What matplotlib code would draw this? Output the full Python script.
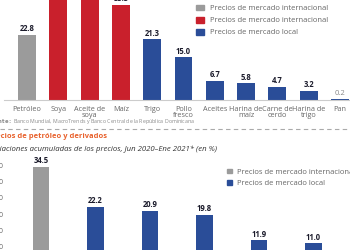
import matplotlib
matplotlib.use("Agg")
import matplotlib.pyplot as plt
from matplotlib.patches import Patch

plt.rcParams['font.family'] = ['Open Sans', 'DejaVu Sans']

# top chart: alimentos
food_labels = ['Petróleo', 'Soya', 'Aceite de\nsoya', 'Maíz', 'Trigo', 'Pollo\nfresco',
               'Aceites', 'Harina de\nmaíz', 'Carne de\ncerdo', 'Harina de\ntrigo', 'Pan']
food_values = [22.8, 58.0, 52.0, 33.3, 21.3, 15.0, 6.7, 5.8, 4.7, 3.2, 0.2]
food_groups = ['petroleo', 'intl', 'intl', 'intl', 'local', 'local', 'local', 'local', 'local', 'local', 'local']

# bottom chart: petróleo y derivados
fuel_labels = ['Petróleo WTI', 'Gasolina premium', 'Gasolina regular', 'Gasoil óptimo', 'Gasoil regular', 'Avtur']
fuel_values = [34.5, 22.2, 20.9, 19.8, 11.9, 11.0]
fuel_groups = ['petroleo', 'local', 'local', 'local', 'local', 'local']

colors = {'petroleo': '#9b9b9b', 'intl': '#c9202c', 'local': '#2a4d98'}
W, H = 350, 250

fig = plt.figure(figsize=(3.5, 2.5), dpi=100)

def px_axes(left, bottom_px, right, top_px):
    # pixel box (y from top) -> figure fraction
    return fig.add_axes([left / W, 1 - bottom_px / H, (right - left) / W, (bottom_px - top_px) / H])

# ---- top chart
L1 = 4
ax1 = px_axes(L1, 100, 350, 0)
x = range(len(food_values))
ax1.bar(x, food_values, width=0.57, color=[colors[g] for g in food_groups])
off1 = (27 - L1) / 31.3
ax1.set_xlim(-off1, (350 - L1) / 31.3 - off1)
ax1.set_ylim(0, 100 / 2.85)
ax1.set_yticks([5, 10, 15, 20, 25, 30])
ax1.set_yticklabels(['%.1f' % t for t in [5, 10, 15, 20, 25, 30]])
ax1.set_xticks(list(x))
ax1.set_xticklabels(food_labels, linespacing=0.8)
ax1.tick_params(axis='y', length=0, pad=2.5, labelsize=5, labelcolor='#666666')
ax1.tick_params(axis='x', length=0, pad=4.2, labelsize=5.2, labelcolor='#666666')
for s in ['top', 'right', 'left']:
    ax1.spines[s].set_visible(False)
ax1.spines['bottom'].set_color('#cccccc')
ax1.spines['bottom'].set_linewidth(0.8)
ax1.spines['bottom'].set_bounds(-0.75, 11)
for i, v in enumerate(food_values):
    if v < 1:
        ax1.annotate('%.1f' % v, (i, v), xytext=(0, 2), textcoords='offset points',
                     ha='center', va='bottom', fontsize=5.5, color='#888888')
    else:
        ax1.annotate('%.1f' % v, (i, v), xytext=(0, 1.2), textcoords='offset points',
                     ha='center', va='bottom', fontsize=5.5, fontweight='bold', color='#1c1c2c')
ax1.legend(handles=[Patch(color=colors['petroleo'], label='Precios de mercado internacional'),
                    Patch(color=colors['intl'], label='Precios de mercado internacional'),
                    Patch(color=colors['local'], label='Precios de mercado local')],
           loc='upper left', bbox_to_anchor=(196 / W, 1 - 4.5 / H), bbox_transform=fig.transFigure,
           frameon=False, fontsize=5.5, labelcolor='#666666', handlelength=1.1, handleheight=0.8,
           handletextpad=0.7, labelspacing=0.6, borderpad=0, borderaxespad=0)

# ---- texts between charts
fig.text(195 / W, 1 - 122 / H,
         r'$\bf{Fuente:}$ Banco Mundial, MacroTrends y Banco Central de la República Dominicana',
         ha='right', va='center', fontsize=3.8, color='#8a8a8a')
fig.add_artist(plt.Line2D([0, 1], [1 - 128.5 / H] * 2, color='#aaaaaa', lw=0.8,
                          linestyle=(0, (4, 3)), transform=fig.transFigure))
fig.text(107 / W, 1 - 137 / H, 'Precios de petróleo y derivados', ha='right', va='center',
         fontsize=5.4, fontweight='bold', color='#e8612c')
fig.text(217 / W, 1 - 149.5 / H,
         'Variaciones acumuladas de los precios, Jun 2020–Ene 2021* (en %)',
         ha='right', va='center', fontsize=5.6, style='italic', color='#333333')

# ---- bottom chart
L2 = 7
ax2 = px_axes(L2, 279, 350, 279 - 37 * 3.25)
x2 = range(len(fuel_values))
ax2.bar(x2, fuel_values, width=0.31, color=[colors[g] for g in fuel_groups])
off2 = (41 - L2) / 54.5
ax2.set_xlim(-off2, (350 - L2) / 54.5 - off2)
ax2.set_ylim(0, 37)
ticks2 = [0, 5, 10, 15, 20, 25, 30, 35]
ax2.set_yticks(ticks2)
ax2.set_yticklabels(['%.1f' % t for t in ticks2])
ax2.set_xticks(list(x2))
ax2.set_xticklabels(fuel_labels)
ax2.tick_params(axis='both', length=0, pad=2.5, labelsize=5, labelcolor='#666666')
for s in ['top', 'right', 'left']:
    ax2.spines[s].set_visible(False)
ax2.spines['bottom'].set_color('#cccccc')
for i, v in enumerate(fuel_values):
    ax2.annotate('%.1f' % v, (i, v), xytext=(0, 1.2), textcoords='offset points',
                 ha='center', va='bottom', fontsize=5.5, fontweight='bold', color='#1c1c2c')
ax2.legend(handles=[Patch(color=colors['petroleo'], label='Precios de mercado internacional'),
                    Patch(color=colors['local'], label='Precios de mercado local')],
           loc='upper left', bbox_to_anchor=(227 / W, 1 - 168.5 / H), bbox_transform=fig.transFigure,
           frameon=False, fontsize=5.5, labelcolor='#666666', handlelength=0.6, handleheight=0.6,
           handletextpad=0.7, labelspacing=0.6, borderpad=0, borderaxespad=0)

fig.savefig('out.png', dpi=100)
